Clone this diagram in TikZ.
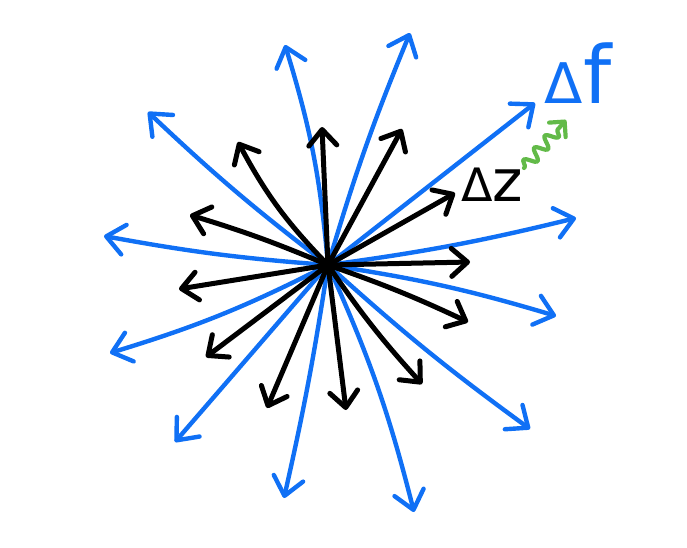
\documentclass[tikz,border=0pt]{standalone}
\usepackage{fontspec}
\setmainfont{DejaVu Sans}
\usetikzlibrary{arrows.meta,decorations.pathmorphing}
\definecolor{skyblue}{RGB}{16,112,245}
\definecolor{leafgreen}{RGB}{98,186,72}
\tikzset{
  bluearrow/.style={draw=skyblue,line width=4.4pt,line cap=round,line join=round,
    -{Straight Barb[length=18pt,width=30pt,line cap=round,line join=round]}},
  blackarrow/.style={draw=black,line width=5pt,line cap=round,line join=round,
    -{Straight Barb[length=16pt,width=28pt,line cap=round,line join=round]}},
  wavyarrow/.style={draw=leafgreen,line width=4.2pt,line cap=round,line join=round,
    decoration={snake,amplitude=6pt,segment length=16pt,pre length=1pt,post length=12pt},decorate,
    -{Straight Barb[length=11pt,width=22pt,line cap=round,line join=round]}},
  lbl/.style={inner sep=0pt,anchor=base}
}
\begin{document}
\begin{tikzpicture}[x=1pt,y=-1pt]
\useasboundingbox (0,0) rectangle (687,547);
\coordinate (c) at (328,265);
% blue arrow ends
\coordinate (b1) at (285,45);
\coordinate (b2) at (410,33);
\coordinate (b3) at (535,103);
\coordinate (b4) at (576,218);
\coordinate (b5) at (556,316);
\coordinate (b6) at (530,429);
\coordinate (b7) at (414,512);
\coordinate (b8) at (284,498);
\coordinate (b9) at (175,442);
\coordinate (b10) at (110,353);
\coordinate (b11) at (104,236);
\coordinate (b12) at (148,112);
% black arrow ends
\coordinate (k1) at (322,127);
\coordinate (k2) at (238,142);
\coordinate (k3) at (402,129);
\coordinate (k4) at (455,193);
\coordinate (k5) at (470,262);
\coordinate (k6) at (468,322);
\coordinate (k7) at (422,384);
\coordinate (k8) at (346,410);
\coordinate (k9) at (267,408);
\coordinate (k10) at (206,357);
\coordinate (k11) at (179,289);
\coordinate (k12) at (190,215);

\draw[bluearrow] (c) to[bend right=6] (b1);
\draw[bluearrow] (c) to[bend left=3] (b2);
\draw[bluearrow] (c) -- (b3);
\draw[bluearrow] (c) to[bend right=3] (b4);
\draw[bluearrow] (c) to[bend left=4] (b5);
\draw[bluearrow] (c) to[bend right=3] (b6);
\draw[bluearrow] (c) to[bend left=5] (b7);
\draw[bluearrow] (c) to[bend left=2] (b8);
\draw[bluearrow] (c) -- (b9);
\draw[bluearrow] (c) to[bend left=5] (b10);
\draw[bluearrow] (c) to[bend left=3] (b11);
\draw[bluearrow] (c) to[bend left=3] (b12);

\draw[blackarrow] (c) -- (k1);
\draw[blackarrow] (c) to[bend left=8] (k2);
\draw[blackarrow] (c) -- (k3);
\draw[blackarrow] (c) -- (k4);
\draw[blackarrow] (c) -- (k5);
\draw[blackarrow] (c) to[bend left=3] (k6);
\draw[blackarrow] (c) to[bend right=4] (k7);
\draw[blackarrow] (c) -- (k8);
\draw[blackarrow] (c) -- (k9);
\draw[blackarrow] (c) -- (k10);
\draw[blackarrow] (c) -- (k11);
\draw[blackarrow] (c) to[bend right=3] (k12);

\node[lbl] (dz) at (492,201) {\fontsize{46}{46}\selectfont Δ\fontsize{58}{58}\selectfont z};
\node[lbl,text=skyblue] (df) at (578,103) {\fontsize{56}{56}\selectfont Δ\fontsize{80}{80}\selectfont f};
\coordinate (g0) at (524,168);
\coordinate (g1) at (566,120);
\draw[wavyarrow] (g0) -- (g1);
\end{tikzpicture}
\end{document}
